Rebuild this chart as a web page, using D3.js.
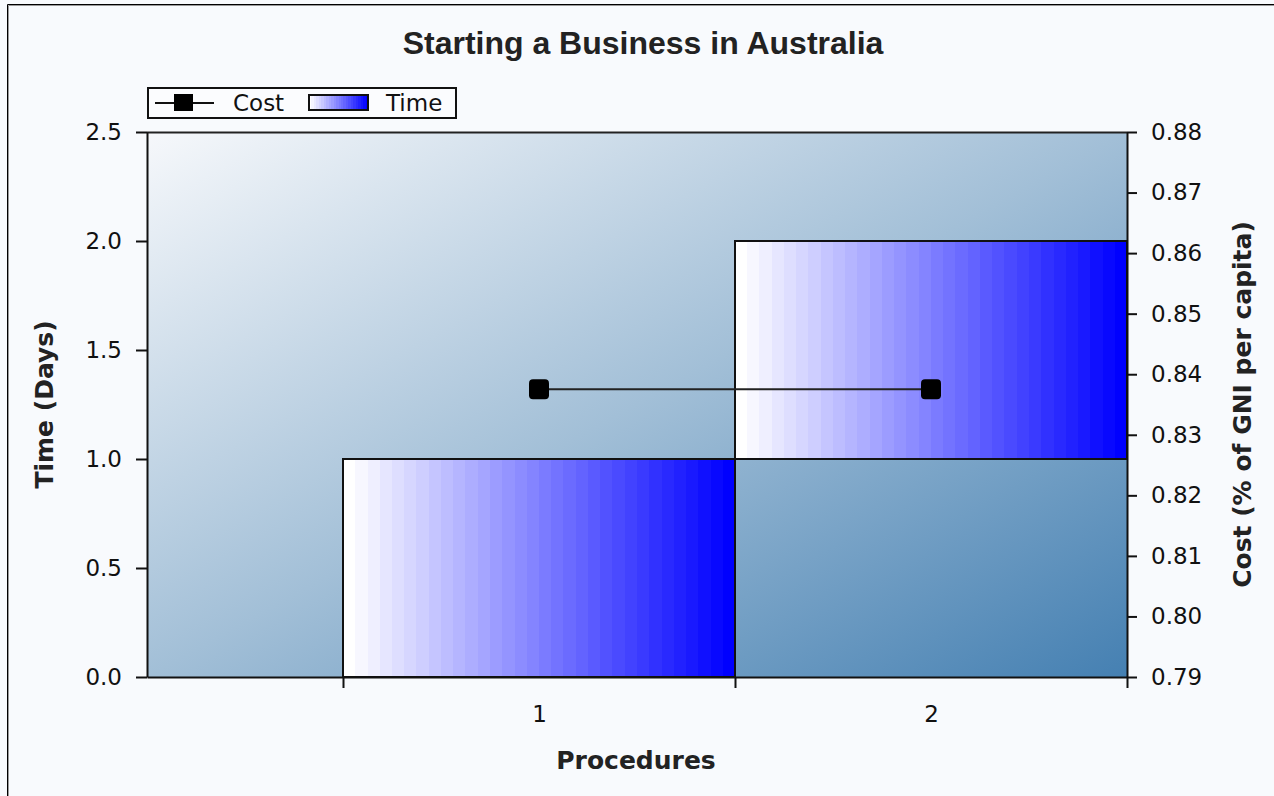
<!DOCTYPE html>
<html>
<head>
<meta charset="utf-8">
<script src="https://cdn.jsdelivr.net/npm/d3@7"></script>
<style>
  body { margin: 0; background: #f8fafd; }
  svg { display: block; }
  .tick text { font-family: "DejaVu Sans", sans-serif; font-size: 23px; fill: #111; }
</style>
</head>
<body>
<svg id="chart" width="1274" height="796"></svg>
<script>
// Procedures and their cumulative time span (days), with cost (% of GNI per capita)
const procedures = [1, 2];
const timeStart = [0, 1];
const timeEnd = [1, 2];
const cost = [0.8375, 0.8375];

const timeTicks = [0, 0.5, 1, 1.5, 2, 2.5];
const costTicks = [0.79, 0.80, 0.81, 0.82, 0.83, 0.84, 0.85, 0.86, 0.87, 0.88];
const bandEdges = [0.5, 1.5, 2.5];

const svg = d3.select("#chart");
const W = 1274, H = 796;
const plot = { left: 147, right: 1127, top: 132, bottom: 677 };

const x = d3.scaleLinear().domain([0, 2.5]).range([plot.left, plot.right]);
const yTime = d3.scaleLinear().domain([0, 2.5]).range([plot.bottom, plot.top]);
const yCost = d3.scaleLinear().domain([0.79, 0.88]).range([plot.bottom, plot.top]);

const defs = svg.append("defs");

// Diagonal wash behind the plot
const bg = defs.append("linearGradient").attr("id", "plotBg")
  .attr("x1", 0).attr("y1", 0).attr("x2", 1).attr("y2", 1);
bg.append("stop").attr("offset", "0%").attr("stop-color", "#f6f8fb");
bg.append("stop").attr("offset", "50%").attr("stop-color", "#a2bfd7");
bg.append("stop").attr("offset", "100%").attr("stop-color", "#4580b2");

// Stepped white-to-blue fill for the time bars
function steppedGradient(id, steps) {
  const g = defs.append("linearGradient").attr("id", id)
    .attr("x1", 0).attr("y1", 0).attr("x2", 1).attr("y2", 0);
  const col = d3.interpolateRgb("#ffffff", "#0000ff");
  for (let i = 0; i < steps; i++) {
    const c = col(i / (steps - 1));
    g.append("stop").attr("offset", (i / steps * 100) + "%").attr("stop-color", c);
    g.append("stop").attr("offset", ((i + 1) / steps * 100) + "%").attr("stop-color", c);
  }
}
steppedGradient("barFill", 32);
steppedGradient("legendFill", 24);

// Page frame
svg.append("rect").attr("x", 0).attr("y", 0).attr("width", W).attr("height", H).attr("fill", "#f8fafd");
svg.append("path").attr("d", `M7.5,${H} V4.5 H${W}`).attr("fill", "none").attr("stroke", "#000").attr("stroke-width", 1);
svg.append("path").attr("d", `M8.5,${H} V5.5 H${W}`).attr("fill", "none").attr("stroke", "#999").attr("stroke-width", 1);

// Title
svg.append("text").attr("x", 643).attr("y", 54).attr("text-anchor", "middle")
  .attr("font-family", "Liberation Sans, Arial, sans-serif").attr("font-weight", "bold")
  .attr("font-size", 32).attr("fill", "#222").text("Starting a Business in Australia");

// Plot area
svg.append("rect").attr("x", plot.left).attr("y", plot.top)
  .attr("width", plot.right - plot.left).attr("height", plot.bottom - plot.top)
  .attr("fill", "url(#plotBg)");

// Time bars
svg.append("g").selectAll("rect").data(procedures).join("rect")
  .attr("x", (d) => x(d - 0.5))
  .attr("y", (d, i) => yTime(timeEnd[i]))
  .attr("width", (d) => x(d + 0.5) - x(d - 0.5))
  .attr("height", (d, i) => yTime(timeStart[i]) - yTime(timeEnd[i]))
  .attr("fill", "url(#barFill)")
  .attr("stroke", "#111").attr("stroke-width", 2);

// Plot top border
svg.append("line").attr("x1", plot.left).attr("x2", plot.right)
  .attr("y1", plot.top + 0.5).attr("y2", plot.top + 0.5).attr("stroke", "#222").attr("stroke-width", 2);

// Cost line with square markers
svg.append("path").datum(procedures)
  .attr("d", d3.line().x((d) => x(d)).y((d, i) => yCost(cost[i])))
  .attr("fill", "none").attr("stroke", "#222").attr("stroke-width", 2);
svg.append("g").selectAll("rect").data(procedures).join("rect")
  .attr("x", (d) => x(d) - 10).attr("y", (d, i) => yCost(cost[i]) - 10)
  .attr("width", 20).attr("height", 20).attr("rx", 4)
  .attr("fill", "#000");

// Axes
function styleAxis(g) {
  g.select(".domain").attr("stroke", "#111").attr("stroke-width", 2);
  g.selectAll(".tick line").attr("stroke", "#111").attr("stroke-width", 2);
}
svg.append("g").attr("transform", `translate(${plot.left},0)`)
  .call(d3.axisLeft(yTime).tickValues(timeTicks).tickFormat(d3.format(".1f")).tickSize(11).tickPadding(14).tickSizeOuter(0))
  .call(styleAxis);
svg.append("g").attr("transform", `translate(${plot.right},0)`)
  .call(d3.axisRight(yCost).tickValues(costTicks).tickFormat(d3.format(".2f")).tickSize(10).tickPadding(14).tickSizeOuter(0))
  .call(styleAxis);
svg.append("g").attr("transform", `translate(0,${plot.bottom})`)
  .call(d3.axisBottom(x).tickValues(bandEdges).tickFormat("").tickSize(11).tickSizeOuter(0))
  .call(styleAxis);
svg.append("g").attr("transform", `translate(0,${plot.bottom})`)
  .call(d3.axisBottom(x).tickValues(procedures).tickFormat(d3.format("d")).tickSize(0).tickPadding(29))
  .call((g) => g.select(".domain").remove());

// Axis titles
const titleFont = (s) => s.attr("font-family", "DejaVu Sans, sans-serif").attr("font-weight", "bold")
  .attr("font-size", 25).attr("fill", "#222").attr("text-anchor", "middle");
svg.append("text").call(titleFont).attr("x", 636).attr("y", 769).text("Procedures");
svg.append("text").call(titleFont)
  .attr("transform", `translate(53,${(plot.top + plot.bottom) / 2}) rotate(-90)`).text("Time (Days)");
svg.append("text").call(titleFont)
  .attr("transform", `translate(1251,${(plot.top + plot.bottom) / 2}) rotate(-90)`).text("Cost (% of GNI per capita)");

// Legend
const lg = svg.append("g");
lg.append("rect").attr("x", 148).attr("y", 88).attr("width", 308).attr("height", 30)
  .attr("fill", "#fbfcfe").attr("stroke", "#111").attr("stroke-width", 2);
lg.append("line").attr("x1", 155).attr("x2", 214).attr("y1", 103).attr("y2", 103).attr("stroke", "#111").attr("stroke-width", 2);
lg.append("rect").attr("x", 174).attr("y", 94).attr("width", 19).attr("height", 17).attr("fill", "#000");
lg.append("text").attr("x", 233).attr("y", 111).attr("font-family", "DejaVu Sans, sans-serif")
  .attr("font-size", 23).attr("fill", "#111").text("Cost");
lg.append("rect").attr("x", 309).attr("y", 95).attr("width", 59).attr("height", 15)
  .attr("fill", "url(#legendFill)").attr("stroke", "#111").attr("stroke-width", 2);
lg.append("text").attr("x", 386).attr("y", 111).attr("font-family", "DejaVu Sans, sans-serif")
  .attr("font-size", 23).attr("fill", "#111").text("Time");
</script>
</body>
</html>
